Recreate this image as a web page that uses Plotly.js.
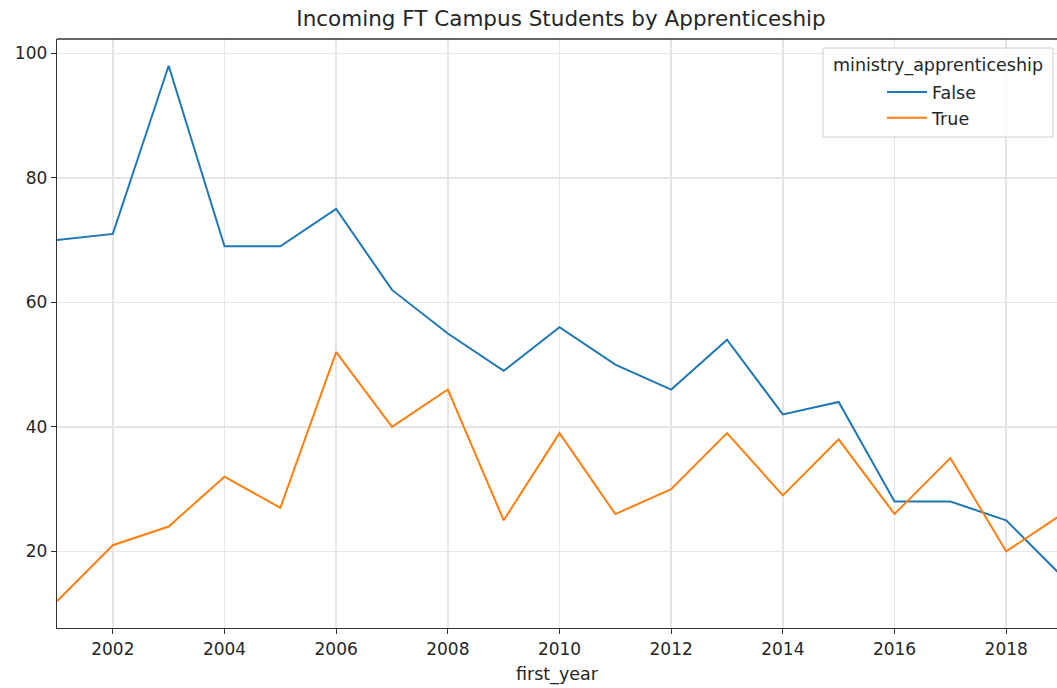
<!DOCTYPE html>
<html>
<head>
<meta charset="utf-8">
<script src="https://cdn.plot.ly/plotly-3.0.1.min.js"></script>
<style>html,body{margin:0;padding:0;background:#fff;}#chart{width:1057px;height:688px;}</style>
</head>
<body>
<div id="chart"></div>
<script>
const years = [2001,2002,2003,2004,2005,2006,2007,2008,2009,2010,2011,2012,2013,2014,2015,2016,2017,2018,2019];
const falseValues = [70,71,98,69,69,75,62,55,49,56,50,46,54,42,44,28,28,25,16];
const trueValues = [12,21,24,32,27,52,40,46,25,39,26,30,39,29,38,26,35,20,26];
const seriesNames = ["False","True"];
const legendTitle = "ministry_apprenticeship";
const xTicks = [2002,2004,2006,2008,2010,2012,2014,2016,2018];
const yTicks = [20,40,60,80,100];

const FONT = "DejaVu Sans, sans-serif";
const TXT = "#262626";
const traces = [
  {x: years, y: falseValues, name: seriesNames[0], type: "scatter", mode: "lines",
   line: {color: "#1f77b4", width: 2}},
  {x: years, y: trueValues, name: seriesNames[1], type: "scatter", mode: "lines",
   line: {color: "#ff7f0e", width: 2}}
];

const layout = {
  width: 1057, height: 688,
  margin: {l: 57, r: 0, t: 39, b: 60},
  paper_bgcolor: "#fff", plot_bgcolor: "#fff",
  font: {family: FONT, color: TXT, size: 17},
  title: {text: "Incoming FT Campus Students by Apprenticeship", font: {family: FONT, size: 21.5, color: TXT},
          x: 0.504, xref: "paper", xanchor: "center", y: 0.973, yanchor: "middle"},
  xaxis: {range: [2001, 2018.91], tickvals: xTicks, ticktext: xTicks.map(String),
          showgrid: true, gridcolor: "#e6e6e6", gridwidth: 1.5,
          showline: true, linecolor: "#333", linewidth: 1.3, mirror: false,
          ticks: "outside", ticklen: 5, tickcolor: "#333", zeroline: false,
          tickfont: {size: 17},
          title: {text: "first_year", font: {size: 17.5}, standoff: 10}},
  yaxis: {range: [7.7, 102.3], tickvals: yTicks, ticktext: yTicks.map(String),
          showgrid: true, gridcolor: "#e6e6e6", gridwidth: 1.5,
          showline: true, linecolor: "#333", linewidth: 1.3,
          ticks: "outside", ticklen: 5, tickcolor: "#333", zeroline: false,
          tickfont: {size: 17}},
  shapes: [
    {type: "line", xref: "paper", yref: "paper", x0: 0, x1: 1, y0: 1, y1: 1,
     line: {color: "#333", width: 1.3}},
    {type: "rect", xref: "paper", yref: "paper", x0: 0.766, x1: 0.996, y0: 0.8336, y1: 0.9847,
     fillcolor: "rgba(255,255,255,0.8)", line: {color: "#d0d0d0", width: 1}, layer: "above"}
  ],
  annotations: [
    {text: legendTitle, xref: "paper", yref: "paper", x: 0.881, y: 0.955,
     xanchor: "center", yanchor: "middle", showarrow: false, font: {size: 17.5, family: FONT, color: TXT}}
  ],
  showlegend: true,
  legend: {x: 0.825, y: 0.9403, xanchor: "left", yanchor: "top",
           bgcolor: "rgba(0,0,0,0)", borderwidth: 0,
           font: {size: 17.5, family: FONT, color: TXT},
           itemwidth: 40}
};

Plotly.newPlot("chart", traces, layout, {displayModeBar: false, staticPlot: true});
</script>
</body>
</html>
